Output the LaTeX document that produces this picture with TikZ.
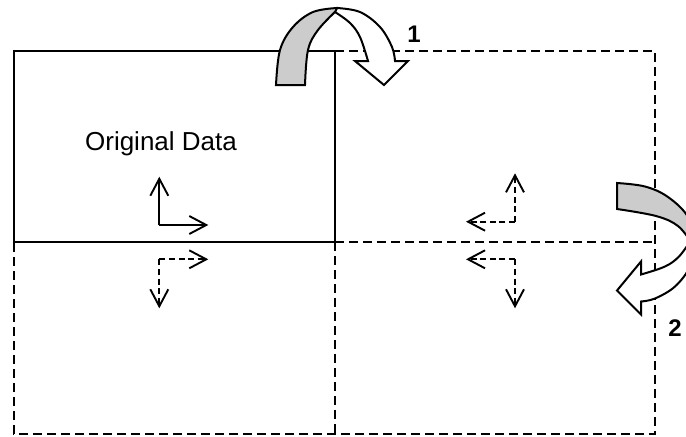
\documentclass[tikz,border=0pt]{standalone}
\usepackage{fontspec}
\setmainfont{Liberation Sans}
\usetikzlibrary{arrows.meta}
\tikzset{
  frame/.style={line width=1.1pt, line cap=rect},
  dframe/.style={line width=1.1pt, dash pattern=on 4.4pt off 2.6pt},
  smallarr/.style={line width=0.95pt, -{Straight Barb[length=8.5pt, width=9pt]}},
  dsmallarr/.style={smallarr, dash pattern=on 3pt off 1.8pt},
  backband/.style={draw=black, fill=black!20, line width=1pt, line join=miter},
  frontband/.style={draw=black, fill=white, line width=1pt, line join=miter},
  lbl/.style={font=\fontsize{12}{14}\selectfont\bfseries, inner sep=0pt},
  title/.style={font=\fontsize{13}{15}\selectfont, inner sep=0pt}
}
\begin{document}
\begin{tikzpicture}[x=0.5pt, y=-0.5pt]
\useasboundingbox (0,0) rectangle (686,436);
\clip (0,0) rectangle (686,436);
% grid corners
\coordinate (TL) at (14,51);
\coordinate (TM) at (335,51);
\coordinate (TR) at (655,51);
\coordinate (ML) at (14,242);
\coordinate (MM) at (335,242);
\coordinate (MR) at (655,242);
\coordinate (BL) at (14,434);
\coordinate (BM) at (335,434);
\coordinate (BR) at (655,434);
% dashed parts
\draw[dframe] (TM) -- (TR) -- (BR) -- (BL) -- (ML);
\draw[dframe] (MM) -- (MR);
\draw[dframe] (MM) -- (BM);
% solid original data box
\draw[frame] (TL) -- (TM) -- (MM) -- (ML) -- cycle;
% text
\node[title] (orig) at (161,144) {Original Data};
% solid axes
\coordinate (c0) at (159.3,225);
\coordinate (c0u) at (159.3,176.7);
\coordinate (c0r) at (208.3,225);
\draw[smallarr] (c0) -- (c0u);
\draw[smallarr] (c0) -- (c0r);
% lower-left dashed axes
\coordinate (c1) at (159.3,259.3);
\coordinate (c1r) at (208.3,259.3);
\coordinate (c1d) at (159.3,308.3);
\draw[dsmallarr] (c1) -- (c1r);
\draw[dsmallarr] (c1) -- (c1d);
% upper-right dashed axes
\coordinate (c2) at (515,221.7);
\coordinate (c2u) at (515,173.3);
\coordinate (c2l) at (466,221.7);
\draw[dsmallarr] (c2) -- (c2u);
\draw[dsmallarr] (c2) -- (c2l);
% lower-right dashed axes
\coordinate (c3) at (515,259.3);
\coordinate (c3d) at (515,308.3);
\coordinate (c3l) at (466,259.3);
\draw[dsmallarr] (c3) -- (c3d);
\draw[dsmallarr] (c3) -- (c3l);
% curved arrow 1
\draw[backband] plot[smooth, tension=0.6] coordinates {(276,85) (280,50) (293,27) (313,12) (337,8)}
  -- plot[smooth, tension=0.6] coordinates {(337,10) (318,30) (308,50) (305,85)} -- cycle;
\draw[frontband] plot[smooth, tension=0.6] coordinates {(337,8) (360,12) (380,27) (392,47) (395,61)}
  -- (408,61) -- (384,85) -- (355,61) -- (368,61)
  -- plot[smooth, tension=0.6] coordinates {(368,61) (360,37) (350,23) (335,12)} -- cycle;
% curved arrow 2
\draw[backband] plot[smooth, tension=0.6] coordinates {(617,183) (645,186.5) (668,197) (688,217) (694,243.5)}
  -- plot[smooth, tension=0.6] coordinates {(692,243.5) (678,226) (656,216) (617,209)} -- cycle;
\draw[frontband] plot[smooth, tension=0.6] coordinates {(694,243.5) (690,266.5) (675,286.5) (655,298.5) (641,301.5)}
  -- (641,314.5) -- (617,290.5) -- (641,261.5) -- (641,274.5)
  -- plot[smooth, tension=0.6] coordinates {(641,274.5) (665,266.5) (679,256.5) (690,241.5)} -- cycle;
% labels
\node[lbl] (n1) at (414,34.5) {1};
\node[lbl] (n2) at (675,328) {2};
\end{tikzpicture}
\end{document}
